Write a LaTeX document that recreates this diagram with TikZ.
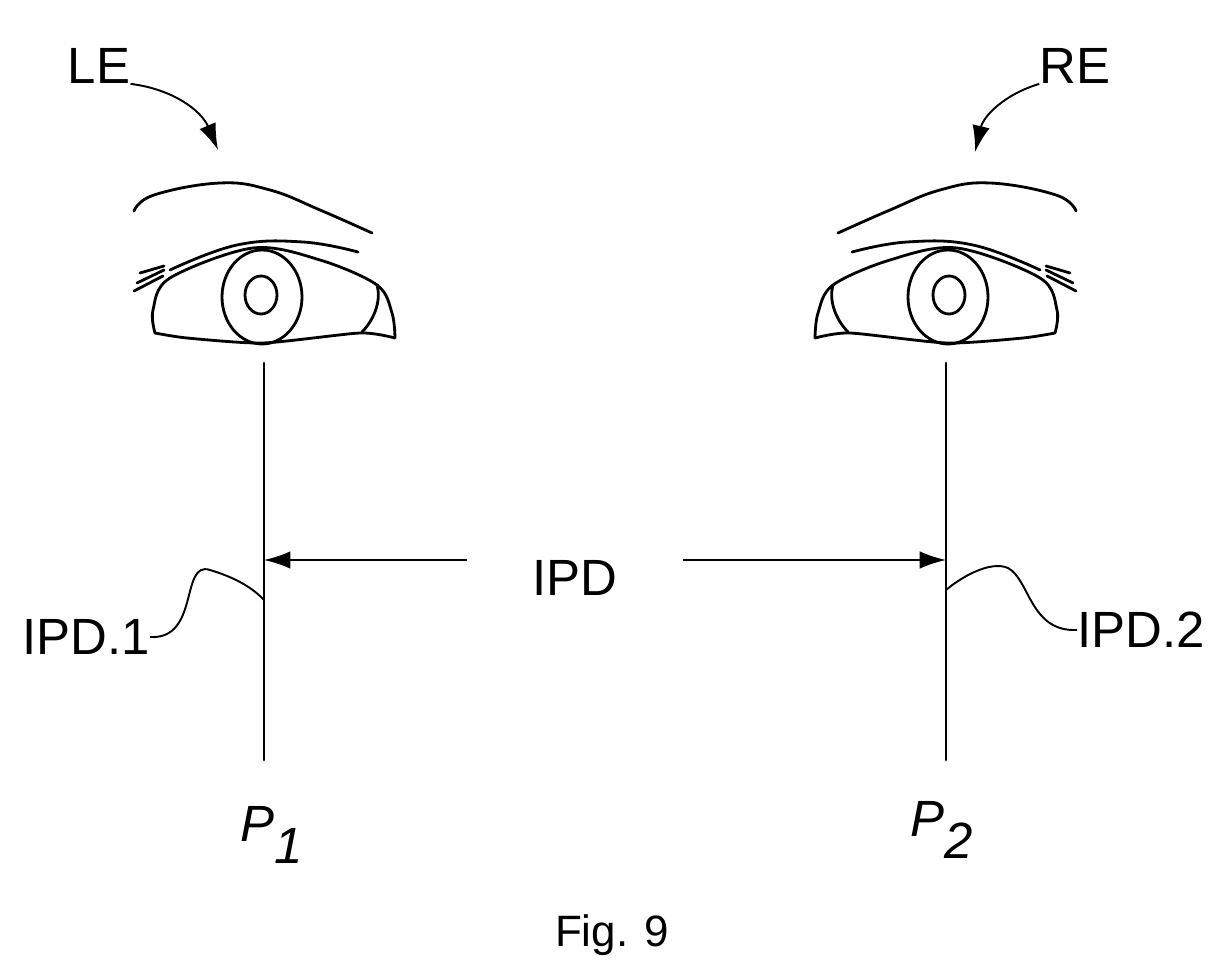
\documentclass[tikz,border=0pt]{standalone}
\usepackage{fontspec}
\setmainfont{Liberation Sans}
\usetikzlibrary{arrows.meta}

\tikzset{
    eyeline/.style={line width=1.6pt, line join=round, line cap=round},
    pointer/.style={line width=1.1pt, -{Latex[length=15pt, width=10pt]}},
    lbl/.style={font=\fontsize{29}{34}\selectfont, inner sep=0pt}
}

\newcommand{\drawEye}{%
    % brow and lid fold
    \draw[eyeline] plot[smooth, tension=0.7] coordinates
        {(-130,-86) (-110,-102) (-44,-114) (6,-107) (56,-87) (108,-64)};
    \draw[eyeline] plot[smooth, tension=0.7] coordinates
        {(-94,-27) (-27,-52) (39,-55) (94,-45)};
    % lashes
    \draw[eyeline] (-127,-14) -- (-100,-27);
    \draw[eyeline] (-130,-6) -- (-101,-21);
    \draw[eyeline] (-124,-24) -- (-100,-31);
    % outline
    \draw[eyeline] plot[smooth, tension=0.55] coordinates
        {(131,41) (128,16) (113,-12) (56,-37) (-11,-49) (-94,-19) (-111,13) (-109,36)}
        -- plot[smooth, tension=0.4] coordinates {(-109,36) (-77,41) (-1,46) (96,36) (131,41)};
    % corner
    \draw[eyeline] (113,-12) .. controls (118,6) and (108,25) .. (98,35);
    % iris and pupil
    \draw[eyeline] (-2,0) ellipse[x radius=40, y radius=47];
    \draw[eyeline] (-3,-2) ellipse[x radius=16, y radius=19];
}

\begin{document}
\begin{tikzpicture}[x=0.02cm, y=-0.02cm]
    \useasboundingbox (0,0) rectangle (1227,979);

    % eyes
    \begin{scope}[shift={(264,297)}]
        \drawEye
    \end{scope}
    \begin{scope}[shift={(946,297)}, xscale=-1]
        \drawEye
    \end{scope}

    % pupil axes
    \coordinate (top1) at (264,363);
    \coordinate (bot1) at (264,760);
    \coordinate (top2) at (946,363);
    \coordinate (bot2) at (946,760);
    \draw[eyeline] (top1) -- (bot1);
    \draw[eyeline] (top2) -- (bot2);

    % labels
    \node[lbl] (le) at (99,66) {LE};
    \node[lbl] (re) at (1075,66) {RE};
    \node[lbl] (ipd) at (575,578) {IPD};
    \node[lbl, anchor=east] (ipd1) at (150,637) {IPD.1};
    \node[lbl, anchor=west] (ipd2) at (1077,630) {IPD.2};
    \node[lbl] (p1) at (272,835) {\itshape P\raisebox{-12pt}{1}};
    \node[lbl] (p2) at (942,830) {\itshape P\raisebox{-12pt}{2}};
    \node[lbl, font=\fontsize{25}{30}\selectfont] (fig) at (612,935) {Fig. 9};

    % IPD arrows
    \coordinate (a1) at (467,560);
    \coordinate (h1) at (264,560);
    \coordinate (a2) at (683,560);
    \coordinate (h2) at (946,560);
    \draw[pointer] (a1) -- (h1);
    \draw[pointer] (a2) -- (h2);

    % eye pointers
    \coordinate (le1) at (218,150);
    \coordinate (re1) at (975,152);
    \draw[pointer] (le.south east) to[bend left=30] (le1);
    \draw[pointer] (re.south west) to[bend right=30] (re1);

    % leaders
    \coordinate (m1) at (264,600);
    \coordinate (m2) at (946,590);
    \draw[line width=1.1pt] (ipd1.east) .. controls (200,640) and (180,560) .. (210,570)
        .. controls (230,576) and (250,585) .. (m1);
    \draw[line width=1.1pt] (m2) .. controls (960,578) and (990,560) .. (1008,568)
        .. controls (1030,580) and (1030,632) .. (ipd2.west);
\end{tikzpicture}
\end{document}
